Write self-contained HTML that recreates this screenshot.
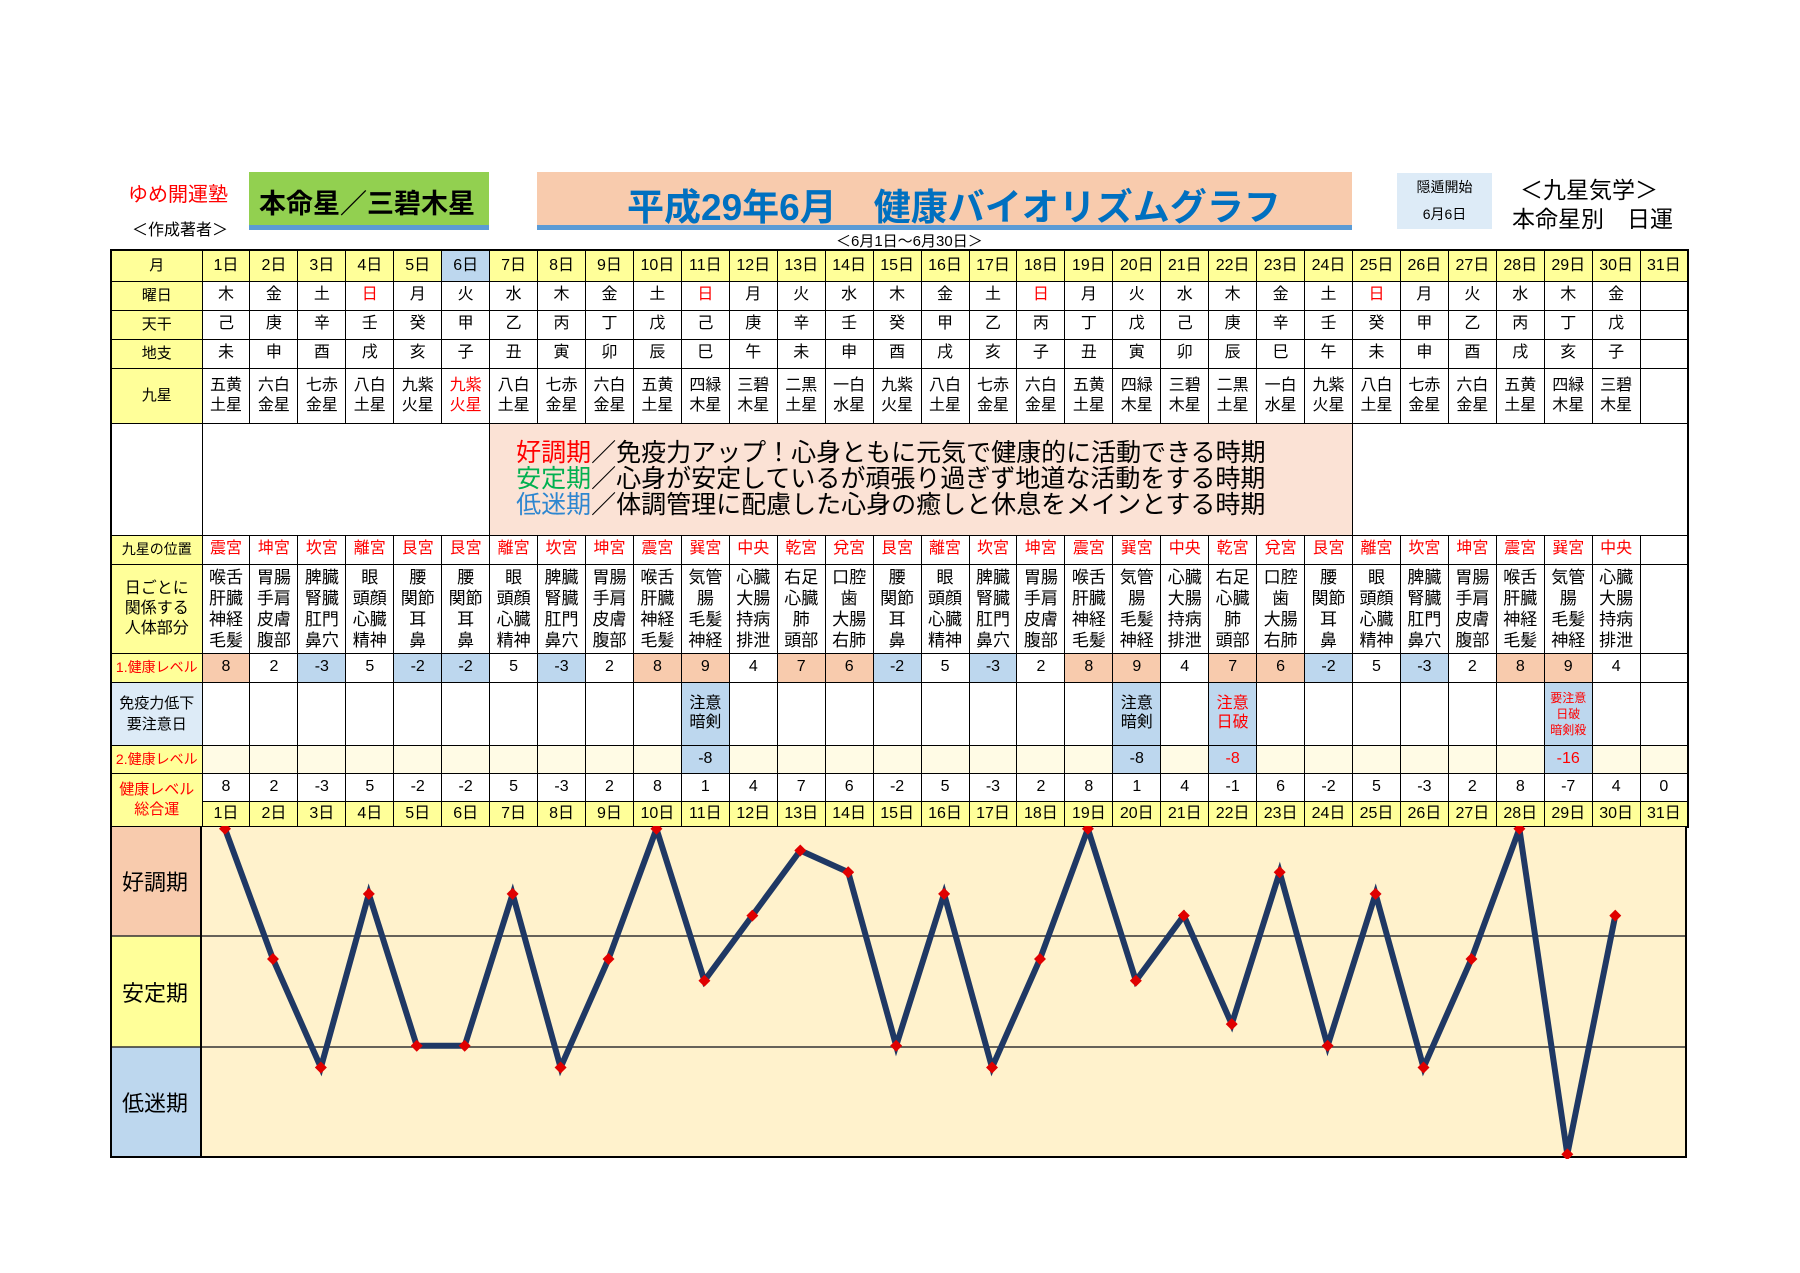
<!DOCTYPE html>
<html><head><meta charset="utf-8">
<style>
*{margin:0;padding:0;box-sizing:border-box}
body{width:1800px;height:1273px;background:#fff;position:relative;overflow:hidden;font-family:"Liberation Sans","Noto Sans CJK JP",sans-serif;color:#000}
.a{position:absolute;white-space:nowrap}
table{position:absolute;left:110px;top:249px;border-collapse:collapse;table-layout:fixed;width:1577px;border:2px solid #000}
td{border:1px solid #000;text-align:center;vertical-align:middle;font-size:16px;line-height:1.15;overflow:hidden;padding:0}
.h{background:#ffff99;font-size:15px}
.y{background:#ffff99}
.b6{background:#bdd7ee}
.r{color:#f00}
.p{background:#f8cbad}
.bl{background:#bdd7ee}
.py td{background:#fffbe5}
.body td{font-size:17px;line-height:21px}
.ky td{font-size:16px;line-height:20px}
.sp{text-align:left;padding-left:26px;background:#fbe2d5;font-size:25px;line-height:26px;color:#000}
</style></head><body>
<div class="a" style="left:128px;top:178px;font-size:20px;color:#f00">ゆめ開運塾</div>
<div class="a" style="left:132px;top:216px;font-size:16px">＜作成著者＞</div>
<div class="a" style="left:249px;top:172px;width:240px;height:58px;background:#92d050;border-bottom:5px solid #5b9bd5"></div>
<div class="a" style="left:259px;top:182px;font-size:27px;font-weight:bold">本命星／三碧木星</div>
<div class="a" style="left:537px;top:172px;width:815px;height:58px;background:#f8cbad;border-bottom:5px solid #5b9bd5"></div>
<div class="a" style="left:627px;top:177px;font-size:37px;font-weight:bold;color:#0070c0">平成29年6月　健康バイオリズムグラフ</div>
<div class="a" style="left:836px;top:230px;font-size:15px">＜6月1日～6月30日＞</div>
<div class="a" style="left:1397px;top:173px;width:95px;height:56px;background:#ddebf7;text-align:center;font-size:14px;line-height:27px;padding-top:1px">隠遁開始<br>6月6日</div>
<div class="a" style="left:1520px;top:171px;font-size:23px">＜九星気学＞</div>
<div class="a" style="left:1512px;top:200px;font-size:23px">本命星別　日運</div>

<table>
<colgroup><col style="width:91px"><col span="31" style="width:47.94px"></colgroup>
<tr style="height:31px" class="y"><td class="h">月</td><td class="y">1日</td><td class="y">2日</td><td class="y">3日</td><td class="y">4日</td><td class="y">5日</td><td class="b6">6日</td><td class="y">7日</td><td class="y">8日</td><td class="y">9日</td><td class="y">10日</td><td class="y">11日</td><td class="y">12日</td><td class="y">13日</td><td class="y">14日</td><td class="y">15日</td><td class="y">16日</td><td class="y">17日</td><td class="y">18日</td><td class="y">19日</td><td class="y">20日</td><td class="y">21日</td><td class="y">22日</td><td class="y">23日</td><td class="y">24日</td><td class="y">25日</td><td class="y">26日</td><td class="y">27日</td><td class="y">28日</td><td class="y">29日</td><td class="y">30日</td><td class="y">31日</td></tr>
<tr style="height:29px"><td class="h">曜日</td><td>木</td><td>金</td><td>土</td><td class="r">日</td><td>月</td><td>火</td><td>水</td><td>木</td><td>金</td><td>土</td><td class="r">日</td><td>月</td><td>火</td><td>水</td><td>木</td><td>金</td><td>土</td><td class="r">日</td><td>月</td><td>火</td><td>水</td><td>木</td><td>金</td><td>土</td><td class="r">日</td><td>月</td><td>火</td><td>水</td><td>木</td><td>金</td><td></td></tr>
<tr style="height:29px"><td class="h">天干</td><td>己</td><td>庚</td><td>辛</td><td>壬</td><td>癸</td><td>甲</td><td>乙</td><td>丙</td><td>丁</td><td>戊</td><td>己</td><td>庚</td><td>辛</td><td>壬</td><td>癸</td><td>甲</td><td>乙</td><td>丙</td><td>丁</td><td>戊</td><td>己</td><td>庚</td><td>辛</td><td>壬</td><td>癸</td><td>甲</td><td>乙</td><td>丙</td><td>丁</td><td>戊</td><td></td></tr>
<tr style="height:29px"><td class="h">地支</td><td>未</td><td>申</td><td>酉</td><td>戌</td><td>亥</td><td>子</td><td>丑</td><td>寅</td><td>卯</td><td>辰</td><td>巳</td><td>午</td><td>未</td><td>申</td><td>酉</td><td>戌</td><td>亥</td><td>子</td><td>丑</td><td>寅</td><td>卯</td><td>辰</td><td>巳</td><td>午</td><td>未</td><td>申</td><td>酉</td><td>戌</td><td>亥</td><td>子</td><td></td></tr>
<tr style="height:55px" class="ky"><td class="h" style="font-size:15px">九星</td><td>五黄<br>土星</td><td>六白<br>金星</td><td>七赤<br>金星</td><td>八白<br>土星</td><td>九紫<br>火星</td><td class="r">九紫<br>火星</td><td>八白<br>土星</td><td>七赤<br>金星</td><td>六白<br>金星</td><td>五黄<br>土星</td><td>四緑<br>木星</td><td>三碧<br>木星</td><td>二黒<br>土星</td><td>一白<br>水星</td><td>九紫<br>火星</td><td>八白<br>土星</td><td>七赤<br>金星</td><td>六白<br>金星</td><td>五黄<br>土星</td><td>四緑<br>木星</td><td>三碧<br>木星</td><td>二黒<br>土星</td><td>一白<br>水星</td><td>九紫<br>火星</td><td>八白<br>土星</td><td>七赤<br>金星</td><td>六白<br>金星</td><td>五黄<br>土星</td><td>四緑<br>木星</td><td>三碧<br>木星</td><td></td></tr>
<tr style="height:112px"><td></td><td colspan="6"></td><td colspan="18" class="sp"><span style="color:#f00">好調期</span>／免疫力アップ！心身ともに元気で健康的に活動できる時期<br><span style="color:#00b050">安定期</span>／心身が安定しているが頑張り過ぎず地道な活動をする時期<br><span style="color:#2e86d0">低迷期</span>／体調管理に配慮した心身の癒しと休息をメインとする時期</td><td colspan="7"></td></tr>
<tr style="height:29px" class="r"><td class="h" style="color:#000;font-size:14px">九星の位置</td><td>震宮</td><td>坤宮</td><td>坎宮</td><td>離宮</td><td>艮宮</td><td>艮宮</td><td>離宮</td><td>坎宮</td><td>坤宮</td><td>震宮</td><td>巽宮</td><td>中央</td><td>乾宮</td><td>兌宮</td><td>艮宮</td><td>離宮</td><td>坎宮</td><td>坤宮</td><td>震宮</td><td>巽宮</td><td>中央</td><td>乾宮</td><td>兌宮</td><td>艮宮</td><td>離宮</td><td>坎宮</td><td>坤宮</td><td>震宮</td><td>巽宮</td><td>中央</td><td></td></tr>
<tr style="height:89px" class="body"><td class="h" style="font-size:16px;line-height:20px">日ごとに<br>関係する<br>人体部分</td>
<td>喉舌<br>肝臓<br>神経<br>毛髪</td><td>胃腸<br>手肩<br>皮膚<br>腹部</td><td>脾臓<br>腎臓<br>肛門<br>鼻穴</td><td>眼<br>頭顔<br>心臓<br>精神</td><td>腰<br>関節<br>耳<br>鼻</td><td>腰<br>関節<br>耳<br>鼻</td><td>眼<br>頭顔<br>心臓<br>精神</td><td>脾臓<br>腎臓<br>肛門<br>鼻穴</td><td>胃腸<br>手肩<br>皮膚<br>腹部</td><td>喉舌<br>肝臓<br>神経<br>毛髪</td><td>気管<br>腸<br>毛髪<br>神経</td><td>心臓<br>大腸<br>持病<br>排泄</td><td>右足<br>心臓<br>肺<br>頭部</td><td>口腔<br>歯<br>大腸<br>右肺</td><td>腰<br>関節<br>耳<br>鼻</td><td>眼<br>頭顔<br>心臓<br>精神</td><td>脾臓<br>腎臓<br>肛門<br>鼻穴</td><td>胃腸<br>手肩<br>皮膚<br>腹部</td><td>喉舌<br>肝臓<br>神経<br>毛髪</td><td>気管<br>腸<br>毛髪<br>神経</td><td>心臓<br>大腸<br>持病<br>排泄</td><td>右足<br>心臓<br>肺<br>頭部</td><td>口腔<br>歯<br>大腸<br>右肺</td><td>腰<br>関節<br>耳<br>鼻</td><td>眼<br>頭顔<br>心臓<br>精神</td><td>脾臓<br>腎臓<br>肛門<br>鼻穴</td><td>胃腸<br>手肩<br>皮膚<br>腹部</td><td>喉舌<br>肝臓<br>神経<br>毛髪</td><td>気管<br>腸<br>毛髪<br>神経</td><td>心臓<br>大腸<br>持病<br>排泄</td><td></td></tr>
<tr style="height:29px"><td class="h r" style="font-size:14px">1.健康レベル</td><td class="p">8</td><td>2</td><td class="bl">-3</td><td>5</td><td class="bl">-2</td><td class="bl">-2</td><td>5</td><td class="bl">-3</td><td>2</td><td class="p">8</td><td class="p">9</td><td>4</td><td class="p">7</td><td class="p">6</td><td class="bl">-2</td><td>5</td><td class="bl">-3</td><td>2</td><td class="p">8</td><td class="p">9</td><td>4</td><td class="p">7</td><td class="p">6</td><td class="bl">-2</td><td>5</td><td class="bl">-3</td><td>2</td><td class="p">8</td><td class="p">9</td><td>4</td><td></td></tr>
<tr style="height:63px"><td style="background:#ddebf7;font-size:15px;line-height:21px">免疫力低下<br>要注意日</td><td></td><td></td><td></td><td></td><td></td><td></td><td></td><td></td><td></td><td></td><td class="bl">注意<br>暗剣</td><td></td><td></td><td></td><td></td><td></td><td></td><td></td><td></td><td class="bl">注意<br>暗剣</td><td></td><td class="bl r">注意<br>日破</td><td></td><td></td><td></td><td></td><td></td><td></td><td class="bl r" style="font-size:12px;line-height:16px">要注意<br>日破<br>暗剣殺</td><td></td><td></td></tr>
<tr style="height:28px" class="py"><td class="h r" style="font-size:14px;background:#ffff99">2.健康レベル</td><td></td><td></td><td></td><td></td><td></td><td></td><td></td><td></td><td></td><td></td><td style="background:#bdd7ee">-8</td><td></td><td></td><td></td><td></td><td></td><td></td><td></td><td></td><td style="background:#bdd7ee">-8</td><td></td><td class="r" style="background:#bdd7ee">-8</td><td></td><td></td><td></td><td></td><td></td><td></td><td class="r" style="background:#bdd7ee">-16</td><td></td><td></td></tr>
<tr style="height:28px"><td class="h r" rowspan="2" style="font-size:15px;line-height:20px">健康レベル<br>総合運</td><td>8</td><td>2</td><td>-3</td><td>5</td><td>-2</td><td>-2</td><td>5</td><td>-3</td><td>2</td><td>8</td><td>1</td><td>4</td><td>7</td><td>6</td><td>-2</td><td>5</td><td>-3</td><td>2</td><td>8</td><td>1</td><td>4</td><td>-1</td><td>6</td><td>-2</td><td>5</td><td>-3</td><td>2</td><td>8</td><td>-7</td><td>4</td><td>0</td></tr>
<tr style="height:26px" class="y"><td>1日</td><td>2日</td><td>3日</td><td>4日</td><td>5日</td><td>6日</td><td>7日</td><td>8日</td><td>9日</td><td>10日</td><td>11日</td><td>12日</td><td>13日</td><td>14日</td><td>15日</td><td>16日</td><td>17日</td><td>18日</td><td>19日</td><td>20日</td><td>21日</td><td>22日</td><td>23日</td><td>24日</td><td>25日</td><td>26日</td><td>27日</td><td>28日</td><td>29日</td><td>30日</td><td>31日</td></tr>
</table>

<svg class="a" style="left:110px;top:826px" width="1577" height="333" viewBox="0 0 1577 333">
<defs><marker id="d" markerWidth="12" markerHeight="12" refX="6" refY="6" markerUnits="userSpaceOnUse"><path d="M6 0L12 6L6 12L0 6Z" fill="#e00000"/></marker></defs>
<rect x="0" y="0" width="1577" height="332" fill="#fff2cc"/>
<rect x="0" y="0" width="91" height="110" fill="#f8cbad"/>
<rect x="0" y="110" width="91" height="111" fill="#ffff99"/>
<rect x="0" y="221" width="91" height="111" fill="#bdd7ee"/>
<line x1="0" y1="110" x2="1577" y2="110" stroke="#333" stroke-width="1.5"/>
<line x1="0" y1="221" x2="1577" y2="221" stroke="#333" stroke-width="1.5"/>
<line x1="91" y1="0" x2="91" y2="332" stroke="#000" stroke-width="2"/>
<rect x="1" y="0" width="1575" height="331" fill="none" stroke="#000" stroke-width="2"/>
<text x="45" y="64" font-size="22" text-anchor="middle" font-family="Liberation Sans,Noto Sans CJK JP,sans-serif">好調期</text>
<text x="45" y="175" font-size="22" text-anchor="middle" font-family="Liberation Sans,Noto Sans CJK JP,sans-serif">安定期</text>
<text x="45" y="285" font-size="22" text-anchor="middle" font-family="Liberation Sans,Noto Sans CJK JP,sans-serif">低迷期</text>
<polyline fill="none" stroke="#1f3864" stroke-width="6" stroke-linejoin="miter" marker-start="url(#d)" marker-mid="url(#d)" marker-end="url(#d)" points="115,2.8 162.94,133 210.88,241.5 258.82,67.9 306.76,219.8 354.7,219.8 402.64,67.9 450.58,241.5 498.52,133 546.46,2.8 594.4,154.7 642.34,89.6 690.28,24.5 738.22,46.2 786.16,219.8 834.1,67.9 882.04,241.5 929.98,133 977.92,2.8 1025.86,154.7 1073.8,89.6 1121.74,198.1 1169.68,46.2 1217.62,219.8 1265.56,67.9 1313.5,241.5 1361.44,133 1409.38,2.8 1457.32,328.3 1505.26,89.6"/>
</svg>
</body></html>
